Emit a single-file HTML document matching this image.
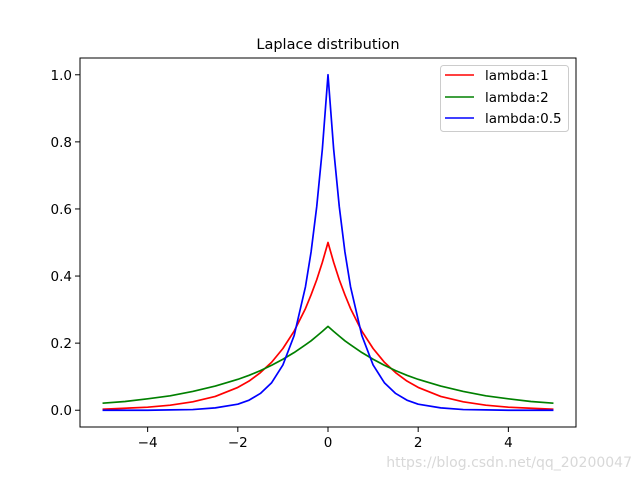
<!DOCTYPE html>
<html><head><meta charset="utf-8"><style>
body{margin:0;background:#fff;}
svg{display:block;font-family:"DejaVu Sans","Liberation Sans",sans-serif;}
</style></head><body>
<svg id="chart" width="640" height="480">
<rect width="640" height="480" fill="#fff"/>
<text x="328" y="49" font-size="14.5" text-anchor="middle">Laplace distribution</text>
<g id="plot"></g>
<rect x="80" y="58" width="496" height="369" fill="none" stroke="#000" stroke-width="1"/>
<g>
<rect x="440.5" y="65.5" width="128" height="66" rx="3" fill="#fff" fill-opacity="0.8" stroke="#ccc"/>
<line x1="445" y1="75" x2="474" y2="75" stroke="#f00" stroke-width="1.5"/>
<text x="485" y="80" font-size="13.5">lambda:1</text>
<line x1="445" y1="97" x2="474" y2="97" stroke="#008000" stroke-width="1.5"/>
<text x="485" y="102" font-size="13.5">lambda:2</text>
<line x1="445" y1="118" x2="474" y2="118" stroke="#00f" stroke-width="1.5"/>
<text x="485" y="123" font-size="13.5">lambda:0.5</text>
</g>
<text x="632" y="467" font-size="14" fill="#d8d8d8" text-anchor="end">https://blog.csdn.net/qq_20200047</text>
</svg>
<script>
const xs=[-5,-4.5,-4,-3.5,-3,-2.5,-2,-1.75,-1.5,-1.25,-1,-0.75,-0.5,-0.375,-0.25,-0.125,0,0.125,0.25,0.375,0.5,0.75,1,1.25,1.5,1.75,2,2.5,3,3.5,4,4.5,5];
const lambda1=[.003,.006,.009,.015,.025,.041,.068,.087,.112,.143,.184,.236,.303,.344,.389,.441,.5,.441,.389,.344,.303,.236,.184,.143,.112,.087,.068,.041,.025,.015,.009,.006,.003];
const lambda2=[.021,.026,.034,.043,.056,.072,.092,.104,.118,.134,.152,.172,.195,.207,.221,.235,.25,.235,.221,.207,.195,.172,.152,.134,.118,.104,.092,.072,.056,.043,.034,.026,.021];
const lambda05=[0,0,0,.001,.002,.007,.018,.030,.050,.082,.135,.223,.368,.472,.607,.779,1,.779,.607,.472,.368,.223,.135,.082,.050,.030,.018,.007,.002,.001,0,0,0];
const xTicks=[-4,-2,0,2,4];
const yTicks=[0,0.2,0.4,0.6,0.8,1.0];
const xTickLabels=["\u22124","\u22122","0","2","4"];
const yTickLabels=["0.0","0.2","0.4","0.6","0.8","1.0"];
const X0=80,X1=576,Y0=427,Y1=58,xmin=-5.5,xmax=5.5,ymin=-0.05,ymax=1.05;
const sx=v=>X0+(v-xmin)/(xmax-xmin)*(X1-X0);
const sy=v=>Y0-(v-ymin)/(ymax-ymin)*(Y0-Y1);
const NS="http://www.w3.org/2000/svg";
const g=document.getElementById('plot');
function mk(t,a){const e=document.createElementNS(NS,t);for(const k in a)e.setAttribute(k,a[k]);g.appendChild(e);return e;}
xTicks.forEach((v,i)=>{
 const l=mk('line',{x1:sx(v),x2:sx(v),y1:Y0,y2:Y0+5,stroke:'#000'});
 
 
 const t=mk('text',{x:sx(v),y:Y0+20,'font-size':13.5,'text-anchor':'middle'});
 t.textContent=xTickLabels[i];
 
 
});
yTicks.forEach((v,i)=>{
 const l=mk('line',{x1:X0-5,x2:X0,y1:sy(v),y2:sy(v),stroke:'#000'});
 
 
 const t=mk('text',{x:X0-8,y:sy(v)+5,'font-size':13.5,'text-anchor':'end'});
 t.textContent=yTickLabels[i];
 
 
});
function line(vals,color,name){
 const p=mk('polyline',{points:xs.map((x,i)=>sx(x)+','+sy(vals[i])).join(' '),fill:'none',stroke:color,'stroke-width':1.7,'stroke-linejoin':'round'});
 
 
}
line(lambda1,'#f00','series-lambda1');
line(lambda2,'#008000','series-lambda2');
line(lambda05,'#00f','series-lambda05');
</script>
</body></html>
